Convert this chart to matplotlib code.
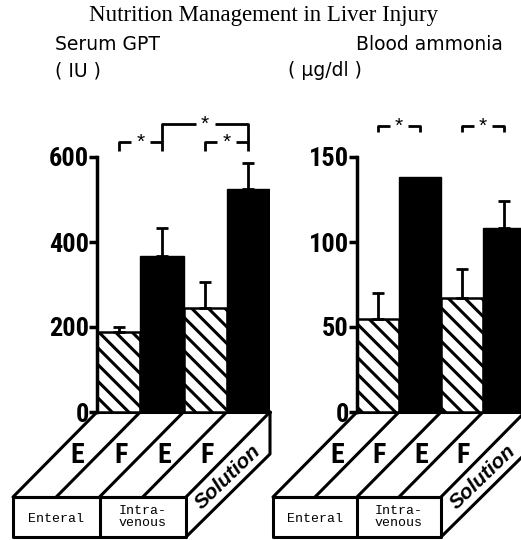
import matplotlib
matplotlib.use('Agg')
import matplotlib.pyplot as plt
from matplotlib import font_manager
import numpy as np

fl = font_manager.fontManager.ttflist
names = {f.name for f in fl}
def pick(*c):
    for n in c:
        if n in names:
            return n
    return None

# condensed bold font for numbers / E-F labels
NARROW = pick('Liberation Sans Narrow', 'Roboto Condensed', 'Open Sans Condensed',
              'DejaVu Sans Condensed')
STRETCH = 'normal'
if NARROW is None:
    if any(f.name == 'DejaVu Sans' and str(f.stretch) in ('condensed', '75', 'semi-condensed')
           for f in fl):
        NARROW, STRETCH = 'DejaVu Sans', 'condensed'
    else:
        NARROW = 'DejaVu Sans'
NUM_FS = 19 if (NARROW != 'DejaVu Sans' or STRETCH == 'condensed') else 16
SANS = pick('Liberation Sans') or 'DejaVu Sans'
SERIF = pick('Liberation Serif') or 'DejaVu Serif'
MONO = pick('Liberation Mono') or 'DejaVu Sans Mono'

# ---------------- data ----------------
groups = ['E', 'F', 'E', 'F']
routes = ['Enteral', 'Intra-\nvenous']
side_label = 'Solution'
gpt_mean = [188, 368, 245, 525]
gpt_err = [12, 64, 62, 60]
gpt_ticks = [0, 200, 400, 600]
nh3_mean = [55, 138, 67, 108]
nh3_err = [15, 0, 17, 16]
nh3_ticks = [0, 50, 100, 150]
hatched = [True, False, True, False]

W, H = 521, 540
DPI = 100
fig = plt.figure(figsize=(W / DPI, H / DPI), dpi=DPI)
plt.rcParams['hatch.linewidth'] = 2.2

ov = fig.add_axes([0, 0, 1, 1])
ov.set_xlim(0, W)
ov.set_ylim(H, 0)
ov.axis('off')
ov.patch.set_alpha(0)

Y0 = 412
YT = 157
DX, DY, BH = 84, 85, 40
LW = 2.2


def panel(x0, width, means, errs, ticks, brackets):
    ax = fig.add_axes([x0 / W, 1 - Y0 / H, width / W, (Y0 - YT) / H])
    ax.patch.set_alpha(0)
    x = np.arange(len(means))
    for i in range(len(means)):
        if hatched[i]:
            ax.bar(x[i], means[i], width=1.0, facecolor='white', edgecolor='black',
                   hatch='\\\\', linewidth=1.8, zorder=2)
        else:
            ax.bar(x[i], means[i], width=1.0, facecolor='black', edgecolor='black',
                   linewidth=1.0, zorder=2)
        if errs[i] > 0:
            ax.errorbar(x[i], means[i], yerr=[[0], [errs[i]]], fmt='none', ecolor='black',
                        elinewidth=2, capsize=4, capthick=2, zorder=3)
    ax.set_xlim(-0.5, len(means) - 0.5)
    ax.set_ylim(0, ticks[-1])
    for s in ['top', 'right', 'bottom']:
        ax.spines[s].set_visible(False)
    ax.spines['left'].set_linewidth(2.5)
    ax.spines['left'].set_bounds(0, ticks[-1])
    ax.set_xticks([])
    ax.set_yticks(ticks)
    ax.set_yticklabels([str(t) for t in ticks], fontfamily=NARROW, fontstretch=STRETCH,
                       fontweight='bold', fontsize=NUM_FS)
    ax.tick_params(axis='y', direction='out', length=6, width=2.5, pad=0)
    for xa, xb, yt, yb in brackets:
        xm = (xa + xb) / 2
        gap = 0.22
        ax.plot([xa, xa, xm - gap], [yb, yt, yt], color='black', lw=2, clip_on=False,
                solid_capstyle='butt')
        ax.plot([xm + gap, xb, xb], [yt, yt, yb], color='black', lw=2, clip_on=False,
                solid_capstyle='butt')
        ax.text(xm, yt, '*', ha='center', va='center', fontsize=15, fontfamily=SANS,
                clip_on=False)
    return ax


def px2val(py, top):
    return (Y0 - py) / (Y0 - YT) * top

axL = panel(97, 173, gpt_mean, gpt_err, gpt_ticks,
            [(0, 1, px2val(142, 600), px2val(151, 600)),
             (2, 3, px2val(142, 600), px2val(151, 600)),
             (1, 3, px2val(124, 600), px2val(142, 600))])
axR = panel(357, 168, nh3_mean, nh3_err, nh3_ticks,
            [(0, 1, px2val(126, 150), px2val(132, 150)),
             (2, 3, px2val(126, 150), px2val(132, 150))])


def platform(x0, x1):
    colw = (x1 - x0) / 4
    k = dict(color='black', lw=LW, solid_capstyle='round', solid_joinstyle='round')
    ov.plot([x0, x1], [Y0, Y0], **k)
    ov.plot([x0 - DX, x1 - DX], [Y0 + DY, Y0 + DY], **k)
    for i in range(5):
        xb = x0 + i * colw
        ov.plot([xb, xb - DX], [Y0, Y0 + DY], **k)
    fx0, fx1 = x0 - DX, x1 - DX
    ov.plot([fx0, fx1, fx1, fx0, fx0], [Y0 + DY, Y0 + DY, Y0 + DY + BH, Y0 + DY + BH, Y0 + DY], **k)
    fm = fx0 + 2 * colw
    ov.plot([fm, fm], [Y0 + DY, Y0 + DY + BH], **k)
    ov.plot([x1, x1, fx1], [Y0, Y0 + BH + 2, Y0 + DY + BH], **k)
    for i, g in enumerate(groups):
        cx = x0 + (i + 0.5) * colw - DX * 0.5
        ov.text(cx + 1, Y0 + DY * 0.5 + 1, g, ha='center', va='center', fontsize=20,
                fontweight='bold', fontfamily=NARROW, fontstretch=STRETCH)
    ov.text((fx0 + fm) / 2, Y0 + DY + BH / 2 + 2, routes[0], ha='center', va='center',
            fontsize=9.5, fontfamily=MONO)
    ov.text((fm + fx1) / 2, Y0 + DY + BH / 2, routes[1], ha='center', va='center',
            fontsize=9.5, fontfamily=MONO, linespacing=1.05)
    ov.text(x1 - DX / 2, Y0 + DY / 2 + BH / 2 + 3, side_label, ha='center', va='center',
            rotation=44, fontsize=15, fontstyle='italic', fontweight='bold',
            fontfamily=SANS)

platform(97, 270)
platform(357, 525)

ov.text(264, 16, 'Nutrition Management in Liver Injury', ha='center', va='center',
        fontsize=16.5, fontfamily=SERIF)
ov.text(55, 45, 'Serum GPT', ha='left', va='center', fontsize=13.5, fontfamily='DejaVu Sans')
ov.text(55, 71, '( IU )', ha='left', va='center', fontsize=13.5, fontfamily='DejaVu Sans')
ov.text(356, 45, 'Blood ammonia', ha='left', va='center', fontsize=13.5, fontfamily='DejaVu Sans')
ov.text(288, 71, '( μg/dl )', ha='left', va='center', fontsize=13.5, fontfamily='DejaVu Sans')

fig.savefig('out.png', dpi=DPI)
